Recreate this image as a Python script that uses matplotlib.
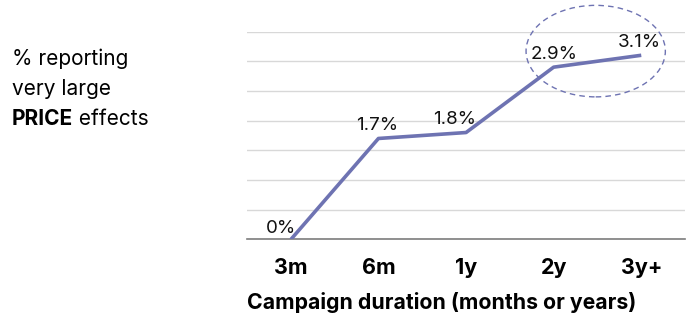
import matplotlib.pyplot as plt
from matplotlib.patches import Ellipse

plt.rcParams["font.family"] = ["Inter", "DejaVu Sans"]

categories = ["3m", "6m", "1y", "2y", "3y+"]
values = [0.0, 1.7, 1.8, 2.9, 3.1]
value_labels = ["0%", "1.7%", "1.8%", "2.9%", "3.1%"]
# label offsets in points (x, y) relative to each point
label_offsets = [(-7, 5), (-1, 6), (-8, 6), (0, 6), (-1, 6)]

LINE_COLOR = "#6e73b2"
GRID_COLOR = "#d8d8d8"
BASE_COLOR = "#7d7d7d"

fig = plt.figure(figsize=(6.91, 3.16), dpi=100)
ax = fig.add_axes([0.3575, 0.2421, 0.6339, 0.6582])

x = list(range(len(categories)))
ax.plot(x, values, color=LINE_COLOR, lw=2.6, solid_capstyle="butt", zorder=3)

for xi, v, lab, off in zip(x, values, value_labels, label_offsets):
    ax.annotate(lab, (xi, v), xytext=off, textcoords="offset points",
                ha="center", va="baseline", fontsize=13.5, color="#111111")

# highlight the last two durations
ax.add_patch(Ellipse((3.48, 3.17), 1.59, 1.54, fill=False, ec=LINE_COLOR,
                     lw=1.0, ls=(0, (4, 3)), clip_on=False, zorder=2))

ax.set_xlim(-0.5, 4.5)
ax.set_ylim(0, 3.5)
ax.set_yticks([0.5 * i for i in range(8)])
ax.yaxis.grid(True, color=GRID_COLOR, lw=1)
ax.set_axisbelow(True)
ax.tick_params(axis="y", left=False, labelleft=False)
ax.set_xticks(x)
ax.set_xticklabels(categories, fontsize=15.5, fontweight="bold")
ax.tick_params(axis="x", length=0, pad=13)
for s in ["top", "right", "left"]:
    ax.spines[s].set_visible(False)
ax.spines["bottom"].set_color(BASE_COLOR)
ax.spines["bottom"].set_linewidth(1.2)

fig.text(247 / 691, 1 - 309 / 316, "Campaign duration (months or years)",
         fontsize=15.3, fontweight="bold", ha="left", va="baseline")

fig.text(12 / 691, 1 - 65 / 316, "% reporting", fontsize=15, va="baseline")
fig.text(12 / 691, 1 - 95 / 316, "very large", fontsize=15, va="baseline")
t = fig.text(12 / 691, 1 - 125 / 316, "PRICE", fontsize=15,
             fontweight="bold", va="baseline")
fig.canvas.draw()
ax.annotate(" effects", xy=(1, 0), xycoords=t, fontsize=15,
            ha="left", va="bottom", annotation_clip=False)

fig.savefig("out.png", dpi=100)
